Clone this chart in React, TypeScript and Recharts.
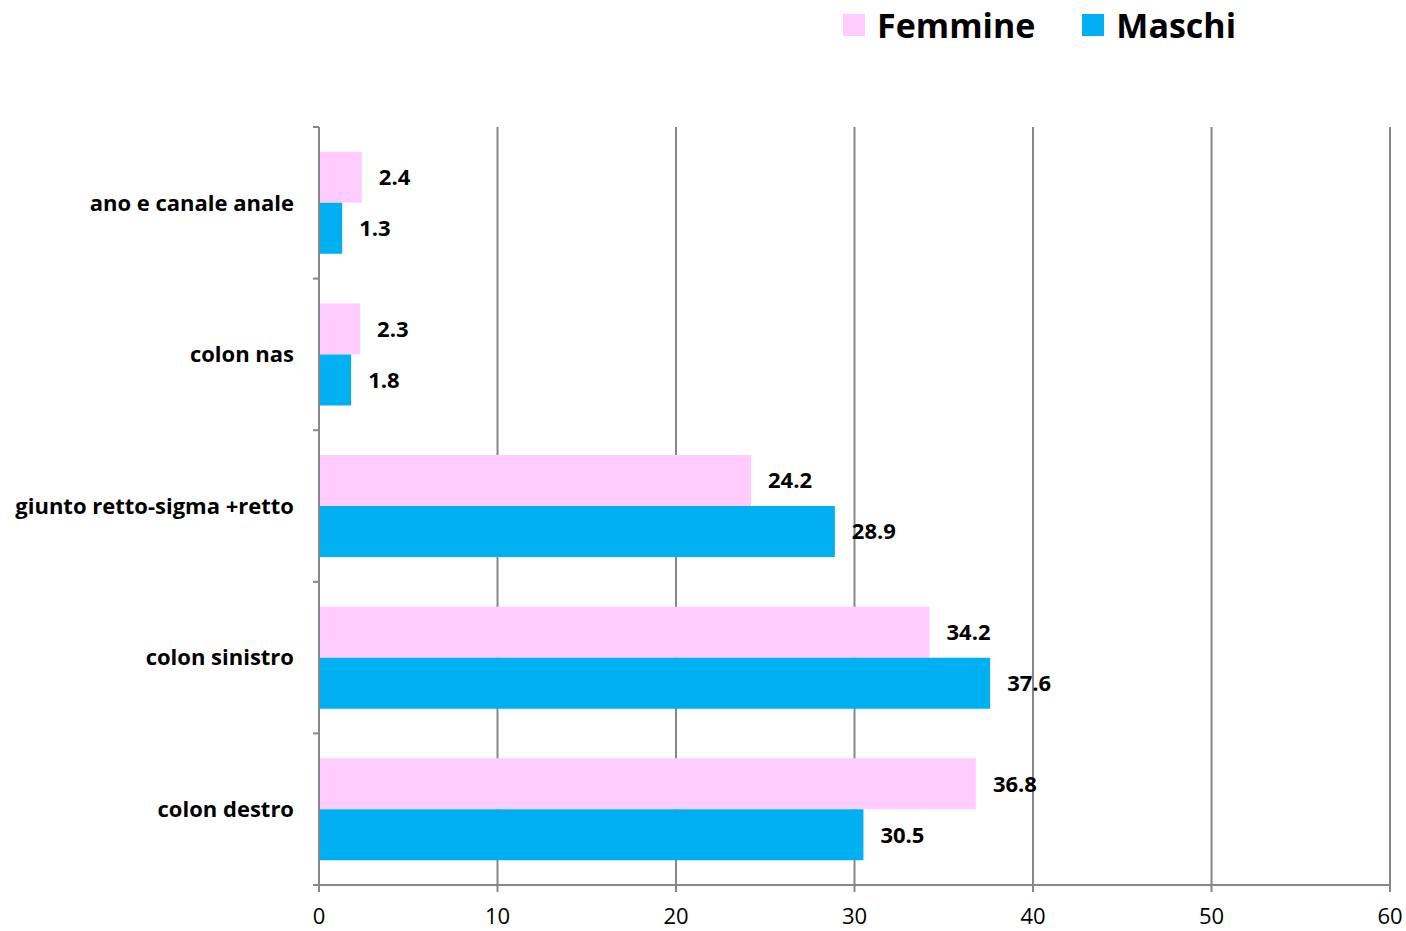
import React from 'react';
import { BarChart, Bar, XAxis, YAxis, CartesianGrid, Legend, LabelList } from 'recharts';

const categories = ['ano e canale anale', 'colon nas', 'giunto retto-sigma +retto', 'colon sinistro', 'colon destro'];
const femmine = [2.4, 2.3, 24.2, 34.2, 36.8];
const maschi = [1.3, 1.8, 28.9, 37.6, 30.5];
const xTicks = [0, 10, 20, 30, 40, 50, 60];

const data = categories.map((c, i) => ({ name: c, Femmine: femmine[i], Maschi: maschi[i] }));

const FONT = '"Open Sans", Lato, sans-serif';
const GRAY = '#878787';
const LABEL_GAP = 25;
const TICK_LEN = 6;

const renderLegend = (props: any) => {
  const { payload } = props;
  return (
    <div style={{ display: 'flex', alignItems: 'center', fontFamily: FONT }}>
      {(payload || []).map((p: any, i: number) => (
        <div key={i} style={{ display: 'flex', alignItems: 'center', marginRight: i === 0 ? 47 : 0 }}>
          <div style={{ width: 22, height: 22, background: p.color, marginRight: 12 }} />
          <span style={{ fontSize: 34, fontWeight: 700, color: '#000', lineHeight: '50px' }}>{p.value}</span>
        </div>
      ))}
    </div>
  );
};

const CategoryTick = (props: any) => {
  const { x, y, payload } = props;
  const half = payload && payload.offset ? payload.offset : 0;
  const isLast = payload && payload.value === categories[categories.length - 1];
  const lx1 = x + LABEL_GAP - TICK_LEN;
  const lx2 = x + LABEL_GAP;
  return (
    <g>
      <text x={x} y={y} dy="0.355em" textAnchor="end" fill="#000" fontSize={22} fontWeight={700} fontFamily={FONT}>
        {payload.value}
      </text>
      {half > 0 && <line x1={lx1} x2={lx2} y1={y - half} y2={y - half} stroke={GRAY} strokeWidth={2} />}
      {half > 0 && isLast && <line x1={lx1} x2={lx2} y1={y + half} y2={y + half} stroke={GRAY} strokeWidth={2} />}
    </g>
  );
};

export default function App() {
  return (
    <div style={{ position: 'absolute', left: 0, top: 0, background: '#fff' }}>
      <BarChart
        width={1406}
        height={931}
        data={data}
        layout="vertical"
        margin={{ top: 77, right: 16, bottom: 0, left: 0 }}
        barCategoryGap="16.4%"
        barGap={0}
      >
        <CartesianGrid horizontal={false} stroke={GRAY} strokeWidth={2} strokeDasharray="" />
        <XAxis
          type="number"
          domain={[0, 60]}
          ticks={xTicks}
          interval={0}
          height={46}
          stroke={GRAY}
          strokeWidth={2}
          tickSize={7}
          tickMargin={16}
          tick={{ fill: '#000', fontSize: 22, fontFamily: FONT }}
        />
        <YAxis
          type="category"
          dataKey="name"
          width={319}
          axisLine={{ stroke: GRAY, strokeWidth: 2 }}
          tickLine={false}
          tickSize={0}
          tickMargin={LABEL_GAP}
          tick={CategoryTick}
        />
        <Legend
          verticalAlign="top"
          align="left"
          content={renderLegend}
          wrapperStyle={{ top: 0, left: 843, width: 'auto' }}
        />
        <Bar dataKey="Femmine" fill="#FFCCFF" isAnimationActive={false}>
          <LabelList dataKey="Femmine" position="right" offset={17} style={{ fill: '#000', fontSize: 22, fontWeight: 700, fontFamily: FONT }} />
        </Bar>
        <Bar dataKey="Maschi" fill="#00B0F0" isAnimationActive={false}>
          <LabelList dataKey="Maschi" position="right" offset={17} style={{ fill: '#000', fontSize: 22, fontWeight: 700, fontFamily: FONT }} />
        </Bar>
      </BarChart>
    </div>
  );
}
